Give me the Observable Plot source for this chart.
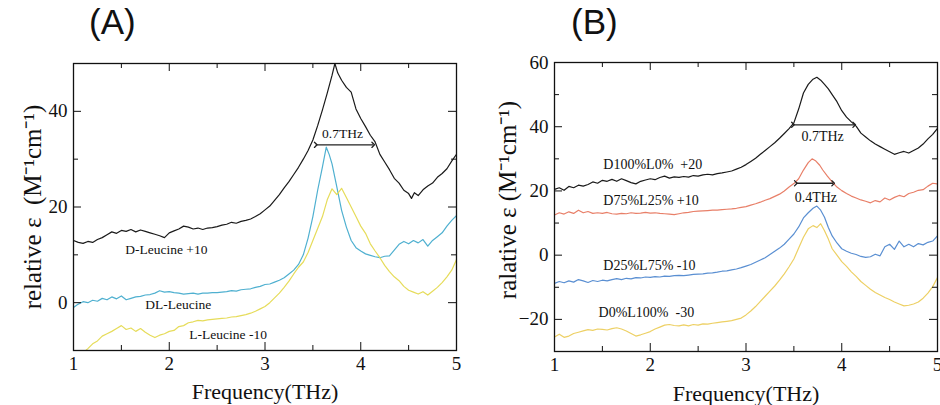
<!DOCTYPE html>
<html>
<head>
<meta charset="utf-8">
<script src="https://cdn.jsdelivr.net/npm/d3@7"></script>
<script src="https://cdn.jsdelivr.net/npm/@observablehq/plot@0.6"></script>
<style>
  html, body { margin: 0; padding: 0; background: #fff; }
  #wrap { position: relative; width: 940px; height: 405px; overflow: hidden; }
  .panel { position: absolute; top: 0; width: 470px; height: 405px; }
  .title { height: 45px; position: relative; font-family: "Liberation Sans", Arial, sans-serif; font-size: 35px; color: #111; }
  .title span { position: absolute; top: 2px; }
  svg { display: block; }
  svg text { font-family: "Liberation Serif", "Times New Roman", serif !important; }
</style>
</head>
<body>
<div id="wrap">
  <div class="panel" id="pa" style="left:0"><div class="title"><span style="left:89px">(A)</span></div></div>
  <div class="panel" id="pb" style="left:470px"><div class="title"><span style="left:101px">(B)</span></div></div>
</div>
<script>
// ---------- Data: panel (A) ----------
const xMajor = [1, 2, 3, 4, 5];
const xMinor = [1.5, 2.5, 3.5, 4.5];
const yMajorA = [0, 20, 40];
const yMinorA = [-10, 10, 30, 50];
const yMajorB = [-20, 0, 20, 40, 60];
const yMinorB = [-30, -10, 10, 30, 50];

// D-Leucine +10 (black)
const aD = [[1.00,13.0],[1.05,12.6],[1.10,12.4],[1.15,12.8],[1.20,12.6],[1.25,13.2],[1.30,13.6],[1.35,14.2],[1.40,14.8],[1.45,14.5],[1.50,15.1],[1.55,14.9],[1.60,15.3],[1.65,14.8],[1.70,15.2],[1.75,14.9],[1.80,14.6],[1.85,14.3],[1.90,14.0],[1.95,13.6],[2.00,14.6],[2.05,15.0],[2.10,15.4],[2.15,16.0],[2.20,15.8],[2.25,15.4],[2.30,15.6],[2.35,15.3],[2.40,15.6],[2.45,15.7],[2.50,15.9],[2.55,16.2],[2.60,16.4],[2.65,16.8],[2.70,16.6],[2.75,17.0],[2.80,17.2],[2.85,17.5],[2.90,18.0],[2.95,18.6],[3.00,19.4],[3.05,20.2],[3.10,21.4],[3.15,22.6],[3.20,24.0],[3.25,25.3],[3.30,26.8],[3.35,28.3],[3.40,30.0],[3.45,31.8],[3.50,34.0],[3.55,37.0],[3.60,40.3],[3.65,43.8],[3.70,47.5],[3.73,50.0],[3.76,48.0],[3.80,46.5],[3.85,45.0],[3.90,44.0],[3.95,40.5],[4.00,38.5],[4.05,36.8],[4.10,35.0],[4.15,33.6],[4.20,31.0],[4.25,29.4],[4.30,27.8],[4.35,26.0],[4.40,25.0],[4.45,23.5],[4.50,22.8],[4.53,21.8],[4.56,23.0],[4.60,22.4],[4.65,23.6],[4.70,24.4],[4.75,25.0],[4.80,26.2],[4.85,27.0],[4.90,28.0],[4.95,29.6],[5.00,31.0]];
// DL-Leucine (blue)
const aDL = [[1.00,-1.0],[1.05,-0.3],[1.10,0.2],[1.15,0.0],[1.20,0.5],[1.25,0.3],[1.30,0.9],[1.35,0.6],[1.40,1.2],[1.45,0.8],[1.50,1.4],[1.55,0.6],[1.60,0.9],[1.65,1.2],[1.70,1.3],[1.75,1.6],[1.80,1.7],[1.85,2.0],[1.90,2.5],[1.95,2.2],[2.00,2.3],[2.05,2.1],[2.10,2.0],[2.15,1.8],[2.20,1.9],[2.25,2.0],[2.30,1.8],[2.35,2.0],[2.40,2.0],[2.45,2.1],[2.50,2.1],[2.55,2.2],[2.60,2.3],[2.65,2.5],[2.70,2.4],[2.75,2.7],[2.80,2.8],[2.85,2.9],[2.90,3.2],[2.95,3.4],[3.00,3.8],[3.05,3.9],[3.10,4.3],[3.15,4.7],[3.20,5.2],[3.25,6.0],[3.30,6.8],[3.35,8.0],[3.40,10.0],[3.45,13.5],[3.50,18.0],[3.55,23.5],[3.60,28.4],[3.64,32.5],[3.67,31.0],[3.70,29.0],[3.75,24.2],[3.80,19.3],[3.85,15.8],[3.90,13.0],[3.95,11.5],[4.00,10.8],[4.05,10.2],[4.10,9.9],[4.15,9.6],[4.20,9.4],[4.25,9.7],[4.30,9.8],[4.35,11.0],[4.40,12.2],[4.45,12.8],[4.50,12.3],[4.55,13.0],[4.60,12.5],[4.65,13.2],[4.70,11.8],[4.75,13.0],[4.80,13.8],[4.85,14.6],[4.90,16.0],[4.95,17.2],[5.00,18.2]];
// L-Leucine -10 (yellow)
const aL = [[1.00,-11.0],[1.05,-10.8],[1.10,-10.5],[1.15,-9.6],[1.20,-8.6],[1.25,-8.0],[1.30,-7.0],[1.35,-6.5],[1.40,-6.0],[1.45,-5.4],[1.50,-4.8],[1.55,-5.6],[1.60,-5.3],[1.65,-6.0],[1.70,-5.4],[1.75,-6.2],[1.80,-6.8],[1.85,-7.3],[1.90,-6.8],[1.95,-6.5],[2.00,-6.0],[2.05,-5.8],[2.10,-5.0],[2.15,-4.8],[2.20,-4.2],[2.25,-4.0],[2.30,-3.7],[2.35,-3.8],[2.40,-3.6],[2.45,-3.5],[2.50,-3.4],[2.55,-3.3],[2.60,-3.2],[2.65,-3.0],[2.70,-2.9],[2.75,-2.7],[2.80,-2.5],[2.85,-2.2],[2.90,-1.8],[2.95,-1.3],[3.00,-0.8],[3.05,0.0],[3.10,1.0],[3.15,2.0],[3.20,3.2],[3.25,4.5],[3.30,6.0],[3.35,7.4],[3.40,8.5],[3.45,10.5],[3.50,13.0],[3.55,15.5],[3.60,18.0],[3.65,21.5],[3.70,23.8],[3.75,22.6],[3.80,23.9],[3.85,22.0],[3.90,20.0],[3.95,18.0],[4.00,16.0],[4.05,14.5],[4.10,12.3],[4.15,10.8],[4.20,9.4],[4.25,7.8],[4.30,6.5],[4.35,5.4],[4.40,4.6],[4.45,3.4],[4.50,2.6],[4.55,2.2],[4.60,1.8],[4.65,2.3],[4.70,1.6],[4.75,2.4],[4.80,3.2],[4.85,4.2],[4.90,5.4],[4.95,6.8],[5.00,9.0]];

// ---------- Data: panel (B) ----------
// D100%L0% +20 (black)
const bD100 = [[1.00,20.5],[1.05,21.0],[1.10,20.2],[1.15,21.4],[1.20,21.0],[1.25,21.8],[1.30,21.5],[1.35,22.0],[1.40,22.8],[1.45,22.4],[1.50,23.3],[1.55,23.0],[1.60,23.6],[1.65,23.0],[1.70,23.8],[1.75,23.2],[1.80,22.6],[1.85,22.2],[1.90,23.0],[1.95,23.4],[2.00,23.8],[2.05,23.5],[2.10,24.2],[2.15,24.6],[2.20,24.0],[2.25,24.4],[2.30,24.2],[2.35,24.5],[2.40,24.3],[2.45,24.8],[2.50,24.6],[2.55,25.0],[2.60,25.2],[2.65,25.0],[2.70,25.4],[2.75,25.6],[2.80,25.9],[2.85,26.2],[2.90,26.8],[2.95,27.4],[3.00,28.2],[3.05,29.2],[3.10,30.2],[3.15,31.4],[3.20,32.6],[3.25,33.8],[3.30,35.0],[3.35,36.4],[3.40,37.9],[3.45,39.4],[3.50,41.2],[3.55,45.5],[3.60,50.5],[3.65,53.2],[3.70,54.8],[3.74,55.4],[3.78,54.5],[3.82,53.2],[3.86,51.8],[3.90,50.0],[3.95,47.8],[4.00,45.0],[4.05,43.0],[4.10,41.5],[4.15,40.2],[4.20,38.0],[4.25,36.8],[4.30,35.6],[4.35,34.6],[4.40,33.8],[4.45,33.0],[4.50,32.2],[4.55,31.4],[4.60,31.9],[4.65,32.3],[4.70,31.8],[4.75,32.6],[4.80,33.4],[4.85,34.6],[4.90,36.2],[4.95,37.6],[5.00,39.5]];
// D75%L25% +10 (red)
const bD75 = [[1.00,12.5],[1.05,13.2],[1.10,12.8],[1.15,13.5],[1.20,13.0],[1.25,14.0],[1.30,13.2],[1.35,13.6],[1.40,13.0],[1.45,13.2],[1.50,13.0],[1.55,13.3],[1.60,12.9],[1.65,12.8],[1.70,13.0],[1.75,12.9],[1.80,13.2],[1.85,13.0],[1.90,13.1],[1.95,13.3],[2.00,13.1],[2.05,13.2],[2.10,13.0],[2.15,12.9],[2.20,12.8],[2.25,12.6],[2.30,12.9],[2.35,13.2],[2.40,13.3],[2.45,13.6],[2.50,13.7],[2.55,13.8],[2.60,13.9],[2.65,14.0],[2.70,14.0],[2.75,14.2],[2.80,14.3],[2.85,14.4],[2.90,14.6],[2.95,14.9],[3.00,15.1],[3.05,15.6],[3.10,16.0],[3.15,16.5],[3.20,17.1],[3.25,17.6],[3.30,18.3],[3.35,19.0],[3.40,20.0],[3.45,21.2],[3.50,22.3],[3.55,23.8],[3.60,26.5],[3.65,28.8],[3.69,30.0],[3.73,29.3],[3.77,28.0],[3.80,26.6],[3.85,24.6],[3.90,22.8],[3.95,21.2],[4.00,20.1],[4.05,19.2],[4.10,18.4],[4.15,17.8],[4.20,17.2],[4.25,16.8],[4.30,16.3],[4.35,17.0],[4.40,16.6],[4.45,17.8],[4.50,17.2],[4.55,18.0],[4.60,18.6],[4.65,18.2],[4.70,19.2],[4.75,19.6],[4.80,20.2],[4.85,20.4],[4.90,21.5],[4.95,22.4],[5.00,22.2]];
// D25%L75% -10 (blue)
const bD25 = [[1.00,-8.8],[1.05,-8.2],[1.10,-8.6],[1.15,-8.0],[1.20,-8.4],[1.25,-7.6],[1.30,-8.0],[1.35,-8.5],[1.40,-7.9],[1.45,-8.2],[1.50,-7.8],[1.55,-8.0],[1.60,-7.6],[1.65,-7.3],[1.70,-7.6],[1.75,-7.2],[1.80,-7.4],[1.85,-7.0],[1.90,-7.1],[1.95,-6.8],[2.00,-6.9],[2.05,-6.7],[2.10,-6.8],[2.15,-6.5],[2.20,-6.6],[2.25,-6.4],[2.30,-6.3],[2.35,-6.4],[2.40,-6.2],[2.45,-6.0],[2.50,-5.9],[2.55,-5.8],[2.60,-5.6],[2.65,-5.5],[2.70,-5.3],[2.75,-5.0],[2.80,-4.9],[2.85,-4.6],[2.90,-4.3],[2.95,-3.9],[3.00,-3.4],[3.05,-2.9],[3.10,-2.2],[3.15,-1.5],[3.20,-0.8],[3.25,0.2],[3.30,1.2],[3.35,2.2],[3.40,3.4],[3.45,5.0],[3.50,6.6],[3.55,8.8],[3.60,11.6],[3.65,13.2],[3.70,14.6],[3.74,15.3],[3.78,14.0],[3.82,11.8],[3.86,8.6],[3.90,6.0],[3.95,3.8],[4.00,2.0],[4.05,1.2],[4.10,0.6],[4.15,0.2],[4.20,-0.4],[4.25,-0.7],[4.30,-0.5],[4.35,0.3],[4.40,-0.2],[4.45,2.6],[4.50,3.4],[4.55,1.8],[4.60,4.4],[4.65,2.6],[4.70,3.4],[4.75,2.6],[4.80,3.6],[4.85,3.2],[4.90,4.0],[4.95,4.4],[5.00,6.0]];
// D0%L100% -30 (yellow)
const bD0 = [[1.00,-25.5],[1.05,-24.6],[1.10,-25.6],[1.15,-25.2],[1.20,-24.4],[1.25,-24.0],[1.30,-23.6],[1.35,-23.2],[1.40,-23.4],[1.45,-23.0],[1.50,-23.1],[1.55,-23.3],[1.60,-22.9],[1.65,-22.6],[1.70,-23.0],[1.75,-23.6],[1.80,-24.4],[1.85,-25.2],[1.90,-24.8],[1.95,-24.3],[2.00,-23.8],[2.05,-23.0],[2.10,-22.4],[2.15,-21.8],[2.20,-21.6],[2.25,-21.9],[2.30,-22.0],[2.35,-21.7],[2.40,-22.0],[2.45,-21.6],[2.50,-21.8],[2.55,-21.4],[2.60,-21.5],[2.65,-21.2],[2.70,-21.0],[2.75,-20.8],[2.80,-20.6],[2.85,-20.4],[2.90,-20.0],[2.95,-19.6],[3.00,-18.6],[3.05,-17.4],[3.10,-16.0],[3.15,-14.4],[3.20,-12.8],[3.25,-11.2],[3.30,-9.6],[3.35,-7.8],[3.40,-5.8],[3.45,-3.6],[3.50,-1.2],[3.55,2.2],[3.60,5.6],[3.65,8.2],[3.70,9.2],[3.74,8.6],[3.78,9.8],[3.82,7.6],[3.86,5.0],[3.90,2.0],[3.95,0.0],[4.00,-2.0],[4.05,-3.5],[4.10,-5.2],[4.15,-6.6],[4.20,-8.2],[4.25,-9.4],[4.30,-10.6],[4.35,-11.6],[4.40,-12.4],[4.45,-13.2],[4.50,-13.8],[4.55,-14.6],[4.60,-15.2],[4.65,-15.8],[4.70,-15.6],[4.75,-15.2],[4.80,-14.6],[4.85,-13.4],[4.90,-11.8],[4.95,-9.8],[5.00,-7.0]];

// Annotations (data units)
const labelsA = [
  {x: 1.54, y: 11.1, t: "D-Leucine +10"},
  {x: 1.75, y: -0.5, t: "DL-Leucine"},
  {x: 2.21, y: -6.6, t: "L-Leucine -10"}
];
const widthLabelsA = [{x: 3.81, y: 35.4, t: "0.7THz"}];
const arrowsA = [{x1: 3.53, x2: 4.13, y: 33.0}];

const labelsB = [
  {x: 1.51, y: 28.2, t: "D100%L0%\u00a0 +20"},
  {x: 1.51, y: 17.0, t: "D75%L25% +10"},
  {x: 1.51, y: -3.1, t: "D25%L75% -10"},
  {x: 1.46, y: -17.9, t: "D0%L100%\u00a0 -30"}
];
const widthLabelsB = [{x: 3.80, y: 36.8, t: "0.7THz"}, {x: 3.73, y: 18.0, t: "0.4THz"}];
const arrowsB = [{x1: 3.49, x2: 4.13, y: 40.6}, {x1: 3.52, x2: 3.91, y: 22.4}];

const seriesA = [
  {name: "D-Leucine +10", pts: aD, color: "#1a1a1a"},
  {name: "DL-Leucine", pts: aDL, color: "#4fb0d0"},
  {name: "L-Leucine -10", pts: aL, color: "#e6dc5a"}
];
const seriesB = [
  {name: "D100%L0% +20", pts: bD100, color: "#1a1a1a"},
  {name: "D75%L25% +10", pts: bD75, color: "#e87f68"},
  {name: "D25%L75% -10", pts: bD25, color: "#5a8fd2"},
  {name: "D0%L100% -30", pts: bD0, color: "#edd064"}
];

const SERIF = "'Liberation Serif', 'Times New Roman', serif";

function panel(o) {
  const H = 360;
  const innerH = H - o.mt - o.mb;
  const innerW = 470 - o.ml - o.mr;
  const marks = [];
  for (const s of o.series) {
    marks.push(Plot.line(s.pts, {x: d => d[0], y: d => d[1], stroke: s.color, strokeWidth: 1.2, clip: true}));
  }
  // ticks (inward, all four sides)
  marks.push(Plot.tickX(xMajor, {x: d => d, insetTop: innerH - 8, stroke: "#111"}));
  marks.push(Plot.tickX(xMajor, {x: d => d, insetBottom: innerH - 8, stroke: "#111"}));
  marks.push(Plot.tickX(xMinor, {x: d => d, insetTop: innerH - 5, stroke: "#111"}));
  marks.push(Plot.tickX(xMinor, {x: d => d, insetBottom: innerH - 5, stroke: "#111"}));
  marks.push(Plot.tickY(o.yMajor, {y: d => d, insetRight: innerW - 8, stroke: "#111"}));
  marks.push(Plot.tickY(o.yMajor, {y: d => d, insetLeft: innerW - 8, stroke: "#111"}));
  marks.push(Plot.tickY(o.yMinor, {y: d => d, insetRight: innerW - 5, stroke: "#111"}));
  marks.push(Plot.tickY(o.yMinor, {y: d => d, insetLeft: innerW - 5, stroke: "#111"}));
  marks.push(Plot.frame({stroke: "#111", strokeWidth: 1.3}));
  marks.push(Plot.axisX(xMajor, {tickSize: 0, tickPadding: 6, fontSize: 19, fontFamily: SERIF, label: null}));
  marks.push(Plot.axisY(o.yMajor, {tickSize: 0, tickPadding: 6, fontSize: 19, fontFamily: SERIF, label: null}));
  // axis titles
  marks.push(Plot.text(["Frequency(THz)"], {frameAnchor: "bottom", lineAnchor: "middle", textAnchor: "middle", dy: o.xlDy, text: d => d, fontSize: 22, fontFamily: SERIF, fill: "#111"}));
  marks.push(Plot.text([o.yLabel], {frameAnchor: "left", textAnchor: "middle", lineAnchor: "middle", rotate: -90, dx: o.ylDx, dy: o.ylDy, text: d => d, fontSize: 25, fontFamily: SERIF, fill: "#111"}));
  // curve labels
  marks.push(Plot.text(o.labels, {x: "x", y: "y", text: "t", textAnchor: "start", fontSize: o.lfs, fontFamily: SERIF, fill: "#111"}));
  marks.push(Plot.text(o.widthLabels, {x: "x", y: "y", text: "t", fontSize: o.lfs, fontFamily: SERIF, fill: "#111"}));
  marks.push(Plot.link(o.arrows, {x1: "x1", x2: "x2", y1: "y", y2: "y", stroke: "#222", strokeWidth: 1.3, markerStart: "arrow", markerEnd: "arrow"}));

  const chart = Plot.plot({
    width: 470, height: H,
    marginLeft: o.ml, marginRight: o.mr, marginTop: o.mt, marginBottom: o.mb,
    x: {domain: [1, 5]},
    y: {domain: o.yDomain},
    style: {fontFamily: SERIF, background: "white", color: "#111", overflow: "visible"},
    marks
  });
  document.getElementById(o.el).appendChild(chart);
}

panel({el: "pa", ml: 73, mr: 14, mt: 18, mb: 55, yDomain: [-10, 50], yMajor: yMajorA, yMinor: yMinorA,
  series: seriesA, labels: labelsA, widthLabels: widthLabelsA, arrows: arrowsA,
  yLabel: "relative ε\u00a0 (M⁻¹cm⁻¹)", ylDx: -41, ylDy: 0, xlDy: 41, lfs: 13.5});
panel({el: "pb", ml: 84, mr: 3, mt: 17, mb: 54, yDomain: [-30, 60], yMajor: yMajorB, yMinor: yMinorB,
  series: seriesB, labels: labelsB, widthLabels: widthLabelsB, arrows: arrowsB,
  yLabel: "ralative ε (M⁻¹cm⁻¹)", ylDx: -47, ylDy: -7, xlDy: 42, lfs: 14});
</script>
</body>
</html>
